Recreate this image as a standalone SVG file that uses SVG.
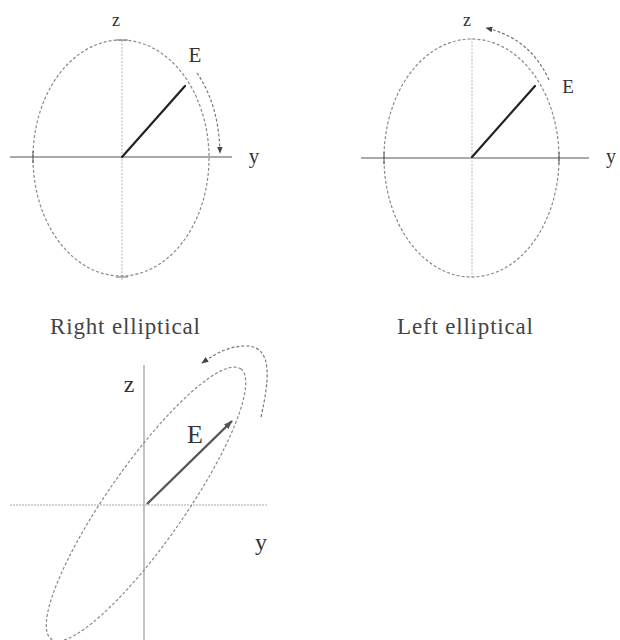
<svg xmlns="http://www.w3.org/2000/svg" width="620" height="640" viewBox="0 0 620 640">
<style>
.ell{fill:none;stroke:#8a8a8a;stroke-width:1.2;stroke-dasharray:3 2}
.hax{stroke:#555;stroke-width:1.2}
.vax{stroke:#b5b5b5;stroke-width:1;stroke-dasharray:2 1.5}
.vec{stroke:#222;stroke-width:2.2;stroke-linecap:round}
.rot{fill:none;stroke:#777;stroke-width:1.2;stroke-dasharray:3 2}
.lbl{font-family:"Liberation Serif","DejaVu Serif",serif;fill:#333}
.cap{font-family:"Liberation Serif","DejaVu Serif",serif;fill:#444;font-size:23px}
</style>
<defs>
<marker id="ah" viewBox="0 0 10 10" refX="9" refY="5" markerWidth="7" markerHeight="7" orient="auto" markerUnits="userSpaceOnUse">
<path d="M0,1 L10,5 L0,9 Z" fill="#444"/>
</marker>
<marker id="ah2" viewBox="0 0 10 10" refX="9" refY="5" markerWidth="9" markerHeight="9" orient="auto" markerUnits="userSpaceOnUse">
<path d="M0,1.5 L10,5 L0,8.5 Z" fill="#555"/>
</marker>
</defs>
<rect width="620" height="640" fill="#fff"/>

<g id="right-elliptical">
<line class="hax" x1="10" y1="157" x2="232" y2="157"/>
<line class="vax" x1="122" y1="40" x2="122" y2="280"/>
<ellipse class="ell" cx="121" cy="158" rx="88" ry="118"/>
<line x1="33" y1="151" x2="33" y2="163" stroke="#555"/>
<line x1="116" y1="40" x2="128" y2="40" stroke="#777"/>
<line x1="116" y1="277" x2="128" y2="277" stroke="#777"/>
<line class="vec" x1="122" y1="157" x2="185" y2="86"/>
<text class="lbl" x="116" y="26" text-anchor="middle" font-size="18">z</text>
<text class="lbl" x="195" y="62" text-anchor="middle" font-size="21">E</text>
<text class="lbl" x="254" y="163" text-anchor="middle" font-size="21">y</text>
</g>

<g id="left-elliptical">
<line class="hax" x1="361" y1="158" x2="589" y2="158"/>
<line class="vax" x1="472" y1="38" x2="472" y2="278"/>
<ellipse class="ell" cx="471.5" cy="158" rx="87.5" ry="119"/>
<line x1="384" y1="152" x2="384" y2="164" stroke="#555"/>
<line x1="559" y1="152" x2="559" y2="164" stroke="#555"/>
<line class="vec" x1="472" y1="157" x2="535" y2="86"/>
<text class="lbl" x="467" y="26" text-anchor="middle" font-size="18">z</text>
<text class="lbl" x="568" y="93" text-anchor="middle" font-size="19">E</text>
<text class="lbl" x="606" y="163" font-size="20">y</text>
</g>

<g id="general-elliptical">
<line x1="144" y1="365" x2="144" y2="640" stroke="#999" stroke-width="1.2"/>
<line x1="10" y1="505" x2="268" y2="505" stroke="#aaa" stroke-width="1.2" stroke-dasharray="2 1"/>
<ellipse class="ell" cx="146" cy="504" rx="165" ry="38.5" transform="rotate(-55 146 504)"/>
<line x1="147" y1="504" x2="232" y2="421" stroke="#555" stroke-width="2.4" marker-end="url(#ah2)"/>
<text class="lbl" x="129" y="392" text-anchor="middle" font-size="24">z</text>
<text class="lbl" x="195" y="443" text-anchor="middle" font-size="26">E</text>
<text class="lbl" x="261" y="550" text-anchor="middle" font-size="24">y</text>
</g>

<g id="captions">
<text class="cap" x="50" y="334" textLength="150" lengthAdjust="spacing">Right elliptical</text>
<text class="cap" x="397" y="334" textLength="136" lengthAdjust="spacing">Left elliptical</text>
</g>

<g id="connectors">
<path class="rot" d="M197,73 Q219,105 220,153" marker-end="url(#ah)"/>
<path class="rot" d="M549,80 Q530,38 486,28" marker-end="url(#ah)"/>
<path class="rot" d="M261,417 C268,385 275,346 246,346 C228,346 215,354 202,363" marker-end="url(#ah)"/>
</g>
</svg>
